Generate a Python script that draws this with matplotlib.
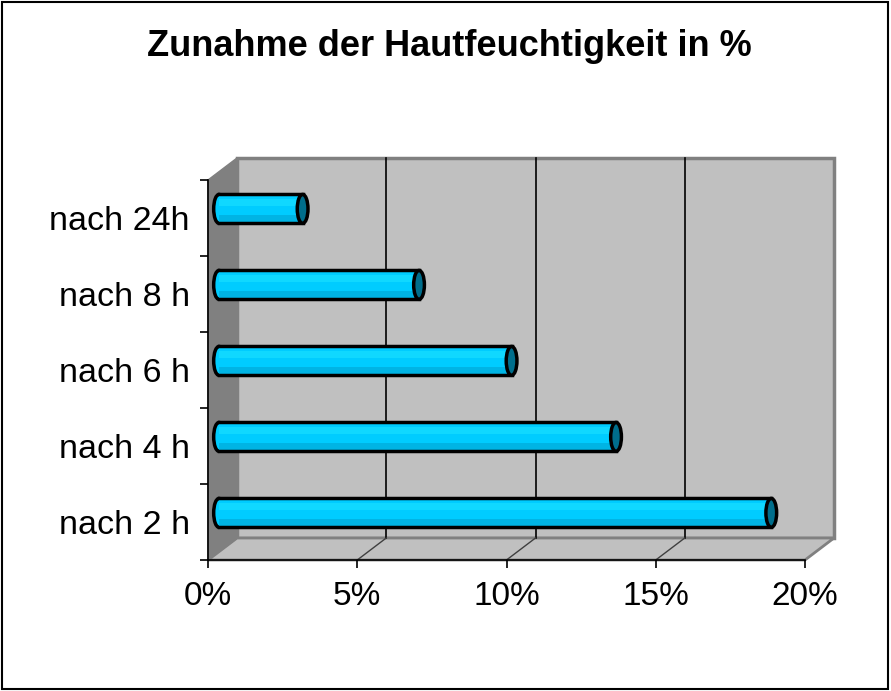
import matplotlib
matplotlib.use("Agg")
import matplotlib.pyplot as plt
from matplotlib.patches import Rectangle, Polygon, Ellipse

categories = ["nach 2 h", "nach 4 h", "nach 6 h", "nach 8 h", "nach 24h"]
values = [18.5, 13.3, 9.8, 6.7, 2.8]
xticks = [0, 5, 10, 15, 20]
xticklabels = ["0%", "5%", "10%", "15%", "20%"]
title = "Zunahme der Hautfeuchtigkeit in %"

W, H = 891, 691
fig = plt.figure(figsize=(W / 100, H / 100), dpi=100)
fig.patch.set_facecolor("white")
fig.patches.append(Rectangle((0.002, 0.003), 0.995, 0.994, transform=fig.transFigure,
                             fill=False, ec="black", lw=1.5))

ax = fig.add_axes([208 / W, 1 - 560 / H, 597 / W, 380 / H])
ax.set_xlim(0, 20)
ax.set_ylim(-0.5, len(categories) - 0.5)
ax.patch.set_visible(False)

# depth in data units
DX = 29 / (597 / 20)
DY = 22 / (380 / 5)
x0, x1 = 0, 20
y0, y1 = -0.5, len(categories) - 0.5

# back wall
ax.add_patch(Rectangle((x0 + DX, y0 + DY), x1 - x0, y1 - y0, fc="#C0C0C0", ec="#808080",
                       lw=2.5, clip_on=False, zorder=1))
# left wall
ax.add_patch(Polygon([(x0, y0), (x0 + DX, y0 + DY), (x0 + DX, y1 + DY), (x0, y1)],
                     closed=True, fc="#808080", ec="#808080", lw=1, clip_on=False, zorder=1.2))
# floor
ax.add_patch(Polygon([(x0, y0), (x1, y0), (x1 + DX, y0 + DY), (x0 + DX, y0 + DY)],
                     closed=True, fc="#C0C0C0", ec="#808080", lw=2, clip_on=False, zorder=1.1))
# gridlines on back wall and floor
for xv in xticks[1:-1]:
    ax.plot([xv + DX, xv + DX], [y0 + DY, y1 + DY], color="black", lw=1.2, clip_on=False, zorder=1.5)
    ax.plot([xv, xv + DX], [y0, y0 + DY], color="#404040", lw=1, clip_on=False, zorder=1.5)

# cylinders
BX = 0.37
BY = 0.12
bh = 0.38
cap_w = 0.36
body = "#00CCFF"
body_light = "#10D8FF"
body_dark = "#00B4E4"
cap = "#006E8C"
for i, v in enumerate(values):
    yc = i + BY
    ax.add_patch(Ellipse((BX, yc), cap_w, bh, fc=body, ec="black", lw=2.5, clip_on=False, zorder=3))
    ax.add_patch(Rectangle((BX, yc - bh / 2), v, bh, fc=body, ec="none", clip_on=False, zorder=3.1))
    ax.add_patch(Rectangle((BX, yc + bh * 0.1), v, bh * 0.25, fc=body_light, ec="none", clip_on=False, zorder=3.12))
    ax.add_patch(Rectangle((BX, yc - bh / 2), v, bh * 0.3, fc=body_dark, ec="none", clip_on=False, zorder=3.15))
    ax.plot([BX, BX + v], [yc + bh / 2, yc + bh / 2], color="black", lw=2.5, zorder=3.2, clip_on=False)
    ax.plot([BX, BX + v], [yc - bh / 2, yc - bh / 2], color="black", lw=2.5, zorder=3.2, clip_on=False)
    ax.add_patch(Ellipse((BX + v, yc), cap_w, bh, fc=cap, ec="black", lw=2.5, clip_on=False, zorder=3.3))

# axes
for s in ["top", "right"]:
    ax.spines[s].set_visible(False)
for s in ["bottom", "left"]:
    ax.spines[s].set_color("black")
    ax.spines[s].set_linewidth(1.2)
    ax.spines[s].set_zorder(2)

ax.set_xticks(xticks)
ax.set_xticklabels(xticklabels, fontsize=24, family="Liberation Sans")
ax.tick_params(axis="x", direction="out", length=6, width=1.2, pad=9, color="black")

ax.set_yticks(range(len(categories)))
ax.set_yticklabels(categories, fontsize=24.5, family="Liberation Sans")
ax.set_yticks([k - 0.5 for k in range(len(categories) + 1)], minor=True)
ax.tick_params(axis="y", which="major", length=0, pad=13)
ax.tick_params(axis="y", which="minor", direction="out", length=6, width=1.2, color="black")

fig.text(0.5 * (133 + 765) / W, 1 - 47 / H, title, ha="center", va="center",
         fontsize=26, fontweight="bold", family="Liberation Sans")

fig.savefig("out.png", dpi=100)
